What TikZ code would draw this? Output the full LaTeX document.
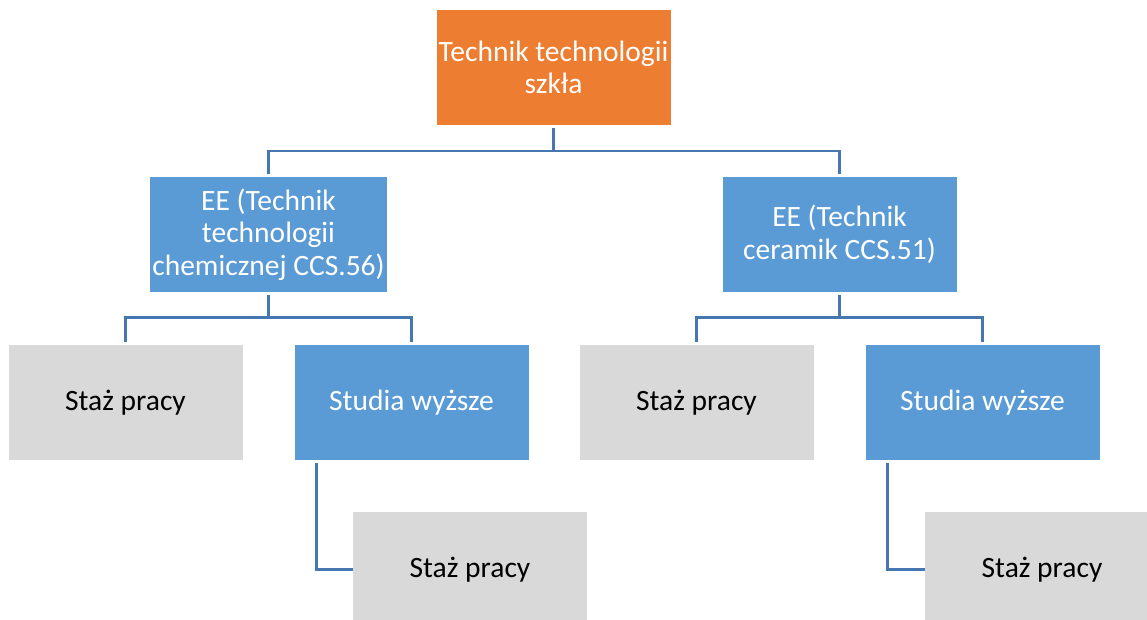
\documentclass[tikz,border=0pt]{standalone}
\usepackage{fontspec}
\setmainfont{Carlito}
\definecolor{orangebox}{HTML}{ED7D31}
\definecolor{bluebox}{HTML}{5B9BD5}
\definecolor{greybox}{HTML}{D9D9D9}
\definecolor{linkblue}{HTML}{4677B0}
\tikzset{
  box/.style={minimum width=234pt, minimum height=115pt, inner sep=2pt,
    align=center, font=\fontsize{29.5}{32.5}\selectfont},
  rootbox/.style={box, fill=orangebox, text=white},
  eebox/.style={box, fill=bluebox, text=white},
  studbox/.style={box, fill=bluebox, text=white},
  stazbox/.style={box, fill=greybox, text=black},
  conn/.style={draw=linkblue, line width=2.6pt, shorten <=3pt, shorten >=3pt},
}
\begin{document}
\begin{tikzpicture}[x=1pt, y=-1pt]
  \clip (0,0) rectangle (1147,620);
  \fill[white] (0,0) rectangle (1147,620);

  % root
  \node[rootbox] (top) at (553.5,67.5) {Technik technologii\\szkła};

  % second level
  \node[eebox] (ee1) at (268.5,234.5) {EE (Technik\\technologii\\chemicznej CCS.56)};
  \node[eebox] (ee2) at (839.5,234.5) {EE (Technik\\ceramik CCS.51)};

  % third level
  \node[stazbox] (staz1) at (125.5,402.5) {Staż pracy};
  \node[studbox] (stud1) at (411.5,402.5) {Studia wyższe};
  \node[stazbox] (staz2) at (696.5,402.5) {Staż pracy};
  \node[studbox] (stud2) at (982.5,402.5) {Studia wyższe};

  % fourth level
  \node[stazbox] (staz3) at (470,569.5) {Staż pracy};
  \node[stazbox] (staz4) at (1042,569.5) {Staż pracy};

  % tree connectors
  \draw[conn] (top.south) -- ++(0,26) -| (ee1.north);
  \draw[conn] (top.south) -- ++(0,26) -| (ee2.north);
  \draw[conn] (ee1.south) -- ++(0,25) -| (staz1.north);
  \draw[conn] (ee1.south) -- ++(0,25) -| (stud1.north);
  \draw[conn] (ee2.south) -- ++(0,25) -| (staz2.north);
  \draw[conn] (ee2.south) -- ++(0,25) -| (stud2.north);
  \draw[conn, shorten >=0pt] ([xshift=22pt]stud1.south west) |- (staz3.west);
  \draw[conn, shorten >=0pt] ([xshift=22pt]stud2.south west) |- (staz4.west);
\end{tikzpicture}
\end{document}
